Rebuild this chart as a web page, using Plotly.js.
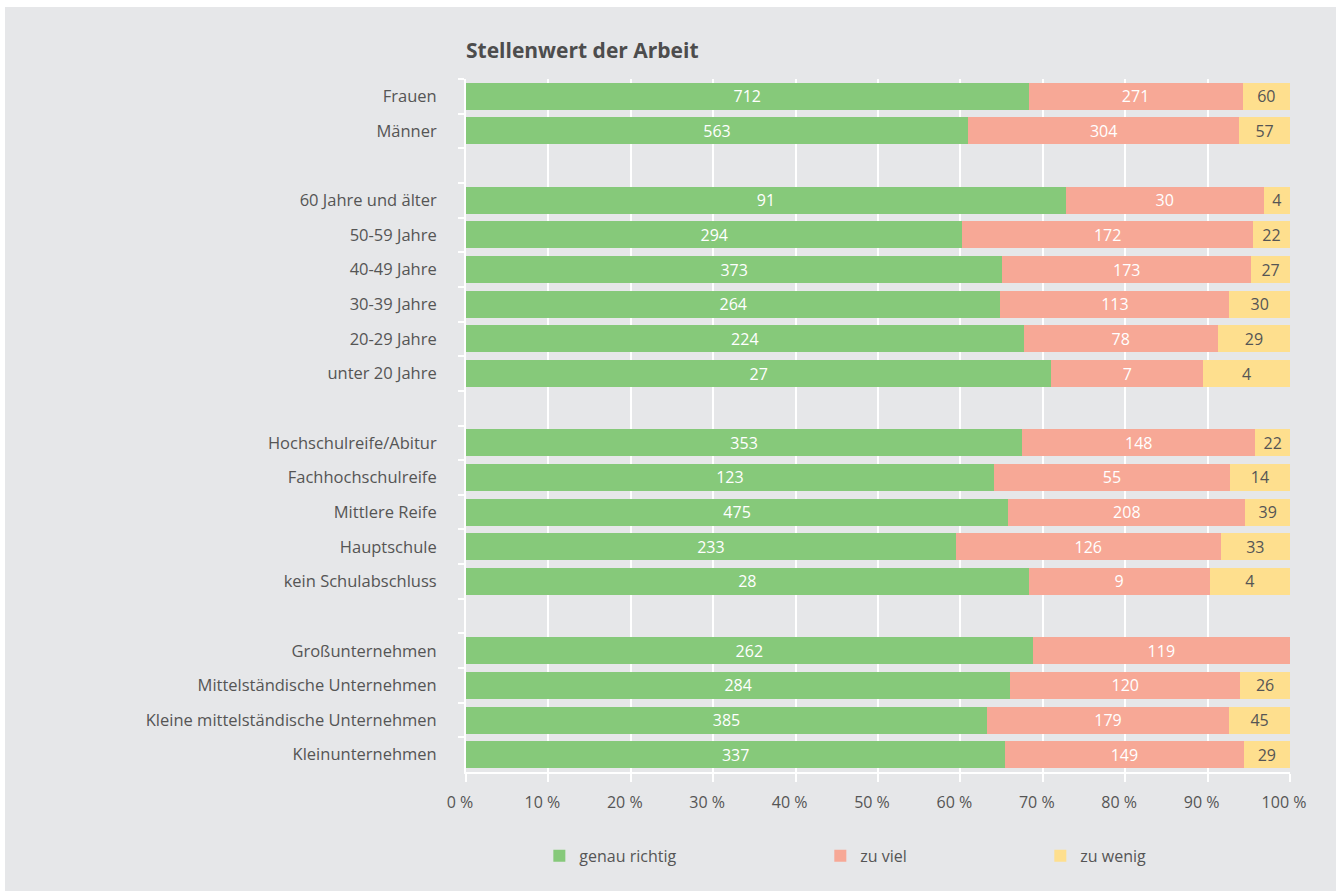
<!DOCTYPE html>
<html>
<head>
<meta charset="utf-8">
<script src="https://cdn.plot.ly/plotly-3.0.1.min.js"></script>
<style>
html,body{margin:0;padding:0;background:#ffffff;}
#chart{position:absolute;left:5px;top:7px;width:1331px;height:884px;}
</style>
</head>
<body>
<div id="chart"></div>
<script>
const categories = ["Frauen","Männer","\u200b","60 Jahre und älter","50-59 Jahre","40-49 Jahre","30-39 Jahre","20-29 Jahre","unter 20 Jahre","\u200b\u200b","Hochschulreife/Abitur","Fachhochschulreife","Mittlere Reife","Hauptschule","kein Schulabschluss","\u200b\u200b\u200b","Großunternehmen","Mittelständische Unternehmen","Kleine mittelständische Unternehmen","Kleinunternehmen"];
const genauRichtig = [712,563,null,91,294,373,264,224,27,null,353,123,475,233,28,null,262,284,385,337];
const zuViel      = [271,304,null,30,172,173,113,78,7,null,148,55,208,126,9,null,119,120,179,149];
const zuWenig     = [60,57,null,4,22,27,30,29,4,null,22,14,39,33,4,null,null,26,45,29];
const seriesNames = ["genau richtig","zu viel","zu wenig"];
const tickValues = [0,10,20,30,40,50,60,70,80,90,100];
const tickLabels = ["0 %","10 %","20 %","30 %","40 %","50 %","60 %","70 %","80 %","90 %","100 %"];

const FONT = "Open Sans, sans-serif";
const colors = ["#86C97A","#F7A896","#FEDF8E"];
const textColors = ["#ffffff","#ffffff","#555555"];
const legends = ["legend","legend2","legend3"];
const allSeries = [genauRichtig, zuViel, zuWenig];

const traces = allSeries.map((vals,i)=>({
  type:"bar", orientation:"h", name:seriesNames[i],
  y:categories, x:vals,
  text: vals.map(v=> v==null ? "" : String(v)),
  textposition:"inside", insidetextanchor:"middle", textangle:0,
  constraintext:"none",
  textfont:{family:FONT,size:16,color:textColors[i]},
  marker:{color:colors[i], line:{width:0}},
  legend:legends[i],
  hoverinfo:"none"
}));

const legendBase = {orientation:"h", yanchor:"middle", xanchor:"left", y:-0.121,
  bgcolor:"rgba(0,0,0,0)", font:{family:FONT,size:16,color:"#555555"}, itemwidth:30};

const layout = {
  width:1331, height:884,
  paper_bgcolor:"#E6E7E9", plot_bgcolor:"#E6E7E9",
  margin:{l:461,r:46,t:72,b:119},
  barmode:"stack", barnorm:"percent", bargap:0.22,
  title:{text:"<b>Stellenwert der Arbeit</b>", x:0, xref:"paper", xanchor:"left",
    y:0.951, yref:"container", yanchor:"middle",
    font:{family:FONT,size:21,color:"#4d4d4d"}},
  xaxis:{range:[0,100], tickmode:"array", tickvals:tickValues, ticktext:tickLabels,
    showgrid:true, gridcolor:"#ffffff", gridwidth:2,
    showline:true, linecolor:"#ffffff", linewidth:2,
    ticks:"outside", ticklen:8, tickwidth:2, tickcolor:"#ffffff",
    ticklabelstandoff:7, ticklabelshift:-6,
    zeroline:false, fixedrange:true,
    tickfont:{family:FONT,size:16,color:"#555555"}},
  yaxis:{type:"category", categoryorder:"array", categoryarray:categories,
    autorange:"reversed",
    showgrid:false, showline:true, linecolor:"#ffffff", linewidth:2,
    ticks:"outside", tickson:"boundaries", ticklen:6, tickwidth:2, tickcolor:"#ffffff",
    ticklabelstandoff:24, fixedrange:true,
    tickfont:{family:FONT,size:16.5,color:"#555555"}},
  legend:Object.assign({}, legendBase, {x:0.089}),
  legend2:Object.assign({}, legendBase, {x:0.430}),
  legend3:Object.assign({}, legendBase, {x:0.697}),
  showlegend:true
};

Plotly.newPlot("chart", traces, layout, {displayModeBar:false, staticPlot:true});
</script>
</body>
</html>
